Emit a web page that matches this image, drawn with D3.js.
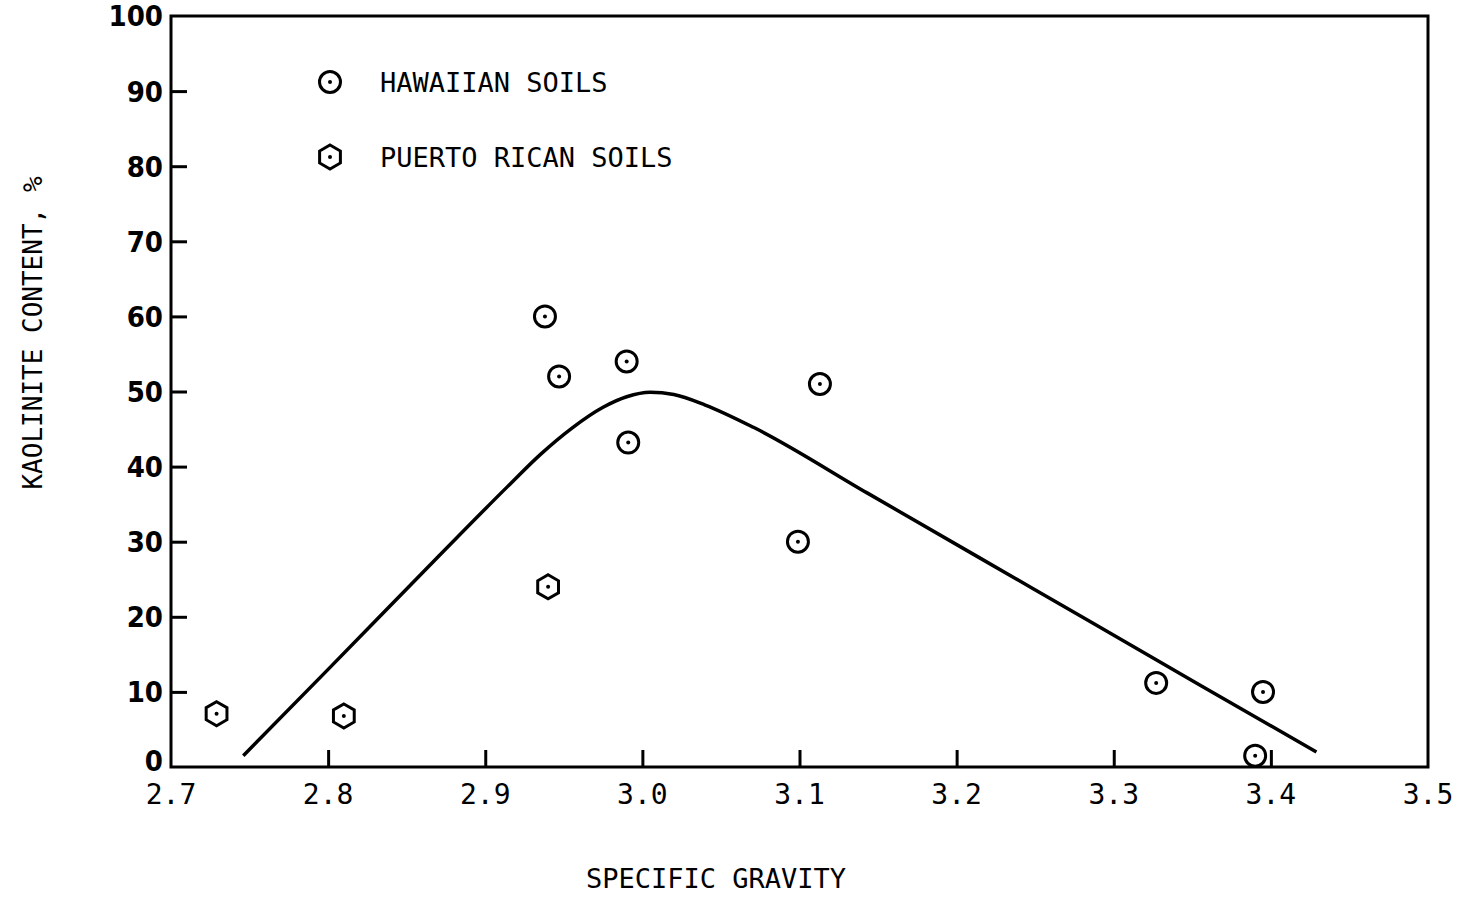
<!DOCTYPE html>
<html lang="en">
  <head>
    <meta charset="utf-8">
    <title>Kaolinite content vs specific gravity</title>
    <style>
      body { margin: 0; background: #fff; }
      svg { display: block; }
      .mono { font-family: "DejaVu Sans Mono", "Liberation Mono", monospace; }
      .num { font-family: "Liberation Sans Narrow", "DejaVu Sans Condensed", sans-serif; font-weight: bold; }
    </style>
  </head>
  <body>
    <svg width="1466" height="898"></svg>
    <script src="https://cdn.jsdelivr.net/npm/d3@7"></script>
    <script>
      // data
      const hawaiian = [
        [2.938, 60], [2.990, 54], [2.947, 52], [2.991, 43.2], [3.113, 51],
        [3.099, 30], [3.327, 11.2], [3.395, 10], [3.390, 1.5]
      ];
      const puertoRican = [[2.729, 7.1], [2.810, 6.8], [2.940, 24]];
      const trend = [
        [2.746, 1.5], [2.80, 13], [2.87, 28], [2.914, 37.3], [2.935, 41.6],
        [2.955, 45.1], [2.975, 47.9], [2.99, 49.3], [3.005, 49.9], [3.02, 49.6],
        [3.04, 48.2], [3.071, 45.2], [3.143, 36.5], [3.249, 23.7], [3.355, 10.9], [3.429, 2]
      ];
      const xTicks = [2.7, 2.8, 2.9, 3.0, 3.1, 3.2, 3.3, 3.4, 3.5];
      const yTicks = [0, 10, 20, 30, 40, 50, 60, 70, 80, 90, 100];
      const legendItems = ["HAWAIIAN SOILS", "PUERTO RICAN SOILS"];

      const svg = d3.select("svg");
      const x = d3.scaleLinear().domain([2.7, 3.5]).range([171, 1428]);
      const y = d3.scaleLinear().domain([0, 100]).range([767, 16]);

      // frame
      svg.append("rect")
        .attr("x", x(2.7)).attr("y", y(100))
        .attr("width", x(3.5) - x(2.7)).attr("height", y(0) - y(100))
        .attr("fill", "none").attr("stroke", "#000").attr("stroke-width", 3);

      // y axis: ticks pointing inward, labels outside
      const yAxis = d3.axisRight(y)
        .tickValues(yTicks.filter(d => d > 0 && d < 100))
        .tickSize(16).tickFormat("");
      svg.append("g").attr("transform", `translate(${x(2.7)},0)`).call(yAxis)
        .call(g => g.select(".domain").remove())
        .call(g => g.selectAll("line").attr("stroke", "#000").attr("stroke-width", 3));
      svg.append("g").selectAll("text").data(yTicks).join("text")
        .attr("class", "num")
        .attr("x", x(2.7) - 8).attr("y", d => y(d) - (d === 0 ? 6 : 0)).attr("dy", "0.36em")
        .attr("text-anchor", "end").attr("font-size", 29)
        .text(d => d);

      // x axis
      const xAxis = d3.axisTop(x)
        .tickValues(xTicks.filter(d => d > 2.7 && d < 3.5))
        .tickSize(17).tickFormat("");
      svg.append("g").attr("transform", `translate(0,${y(0)})`).call(xAxis)
        .call(g => g.select(".domain").remove())
        .call(g => g.selectAll("line").attr("stroke", "#000").attr("stroke-width", 3));
      svg.append("g").selectAll("text").data(xTicks).join("text")
        .attr("class", "mono")
        .attr("x", d => x(d)).attr("y", y(0) + 37)
        .attr("text-anchor", "middle").attr("font-size", 28)
        .text(d => d.toFixed(1));

      // titles
      svg.append("text").attr("class", "mono")
        .attr("x", 716).attr("y", 888).attr("text-anchor", "middle").attr("font-size", 27)
        .text("SPECIFIC GRAVITY");
      svg.append("text").attr("class", "mono")
        .attr("transform", "translate(42,333) rotate(-90)")
        .attr("text-anchor", "middle").attr("font-size", 26)
        .text("KAOLINITE CONTENT, %");

      // trend curve
      const line = d3.line().x(d => x(d[0])).y(d => y(d[1])).curve(d3.curveMonotoneX);
      svg.append("path").datum(trend)
        .attr("d", line).attr("fill", "none")
        .attr("stroke", "#000").attr("stroke-width", 3.5);

      // markers
      const hex = r => d3.range(6).map(i => {
        const a = Math.PI / 3 * i - Math.PI / 2;
        return [r * Math.cos(a), r * Math.sin(a)];
      });
      function circleMark(g) {
        g.append("circle").attr("r", 10.5).attr("fill", "#fff").attr("stroke", "#000").attr("stroke-width", 3);
        g.append("circle").attr("r", 2).attr("fill", "#000");
      }
      function hexMark(g) {
        g.append("polygon").attr("points", hex(12).join(" "))
          .attr("fill", "#fff").attr("stroke", "#000").attr("stroke-width", 3);
        g.append("circle").attr("r", 2).attr("fill", "#000");
      }

      svg.append("g").selectAll("g").data(hawaiian).join("g")
        .attr("transform", d => `translate(${x(d[0])},${y(d[1])})`)
        .each(function () { circleMark(d3.select(this)); });
      svg.append("g").selectAll("g").data(puertoRican).join("g")
        .attr("transform", d => `translate(${x(d[0])},${y(d[1])})`)
        .each(function () { hexMark(d3.select(this)); });

      // legend
      const legend = svg.append("g");
      legendItems.forEach((label, i) => {
        const ly = 82 + i * 75;
        const m = legend.append("g").attr("transform", `translate(330,${ly})`);
        if (i === 0) circleMark(m); else hexMark(m);
        legend.append("text").attr("class", "mono")
          .attr("x", 380).attr("y", ly + 10).attr("font-size", 27)
          .text(label);
      });
    </script>
  </body>
</html>
